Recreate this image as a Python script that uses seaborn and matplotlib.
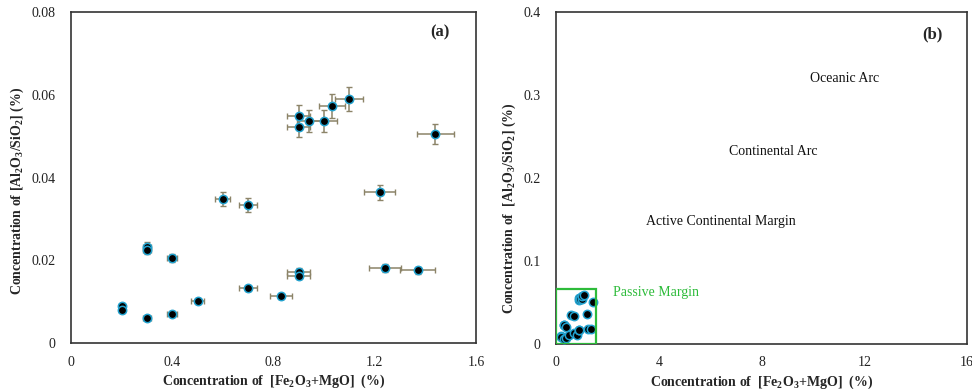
import numpy as np
import pandas as pd
import matplotlib
matplotlib.use("Agg")
import matplotlib.pyplot as plt
from matplotlib.patches import Rectangle
import seaborn as sns

# ---- data ----
fe_mgo = [0.20, 0.20, 0.30, 0.30, 0.30, 0.40, 0.40, 0.50, 0.60, 0.70, 0.70, 0.83,
          0.90, 0.90, 0.90, 0.90, 0.94, 1.00, 1.03, 1.10, 1.22, 1.24, 1.37, 1.44]
al_si = [0.0090, 0.0080, 0.0060, 0.0233, 0.0226, 0.0205, 0.0071, 0.0101, 0.0348, 0.0334, 0.0132, 0.0113,
         0.0172, 0.0162, 0.0548, 0.0523, 0.0536, 0.0536, 0.0572, 0.0589, 0.0364, 0.0182, 0.0176, 0.0505]
x_err = [0.010, 0.010, 0.015, 0.015, 0.015, 0.020, 0.020, 0.025, 0.030, 0.035, 0.035, 0.042,
         0.045, 0.045, 0.045, 0.045, 0.047, 0.050, 0.052, 0.055, 0.061, 0.062, 0.069, 0.072]
y_err = [0.0005, 0.0004, 0.0003, 0.0012, 0.0011, 0.0010, 0.0004, 0.0005, 0.0017, 0.0017, 0.0007, 0.0006,
         0.0009, 0.0008, 0.0027, 0.0026, 0.0027, 0.0027, 0.0029, 0.0029, 0.0018, 0.0009, 0.0009, 0.0025]

region_labels = ["Oceanic Arc", "Continental Arc", "Active Continental Margin", "Passive Margin"]
region_x = [9.9, 6.75, 3.5, 2.2]
region_y = [0.320, 0.232, 0.147, 0.062]
passive_box = (1.55, 0.066)

df = pd.DataFrame({"x": fe_mgo, "y": al_si, "xe": x_err, "ye": y_err})

sns.set_style("white")
plt.rcParams["font.family"] = ["Liberation Serif", "DejaVu Serif"]
plt.rcParams["mathtext.fontset"] = "custom"
plt.rcParams["mathtext.rm"] = "Liberation Serif"
plt.rcParams["mathtext.bf"] = "Liberation Serif:bold"

fig = plt.figure(figsize=(9.72, 3.89), dpi=100)
ax1 = fig.add_axes([0.073, 0.118, 0.4167, 0.851])
ax2 = fig.add_axes([0.572, 0.116, 0.423, 0.853])

xlab = r"Concentration of  [Fe$_\mathbf{2}$O$_\mathbf{3}$+MgO]  (%)"
ylab = r"Concentration of [Al$_\mathbf{2}$O$_\mathbf{3}$/SiO$_\mathbf{2}$] (%)"
ylab2 = r"Concentration of  [Al$_\mathbf{2}$O$_\mathbf{3}$/SiO$_\mathbf{2}$] (%)"

# panel (a)
ax1.errorbar(df["x"], df["y"], xerr=df["xe"], yerr=df["ye"], fmt="none",
             ecolor="#8c8468", elinewidth=1.1, capsize=2.5, capthick=1.0, zorder=2)
sns.scatterplot(data=df, x="x", y="y", ax=ax1, color="black", edgecolor="#22a2cf",
                linewidth=1.1, s=36, zorder=3, legend=False)
ax1.set_xlim(0, 1.6)
ax1.set_ylim(0, 0.08)
ax1.set_xticks([0, 0.4, 0.8, 1.2, 1.6])
ax1.set_xticklabels(["0", "0.4", "0.8", "1.2", "1.6"])
ax1.set_yticks([0, 0.02, 0.04, 0.06, 0.08])
ax1.set_yticklabels(["0", "0.02", "0.04", "0.06", "0.08"])
ax1.text(0.91, 0.94, "(a)", transform=ax1.transAxes, fontsize=12, fontweight="bold",
         ha="center", va="center")
ax1.set_xlabel(xlab, fontsize=10, fontweight="bold", labelpad=3)
ax1.set_ylabel(ylab, fontsize=10, fontweight="bold", labelpad=2)
ax1.yaxis.set_label_coords(-0.11, 0.46)

# panel (b)
sns.scatterplot(data=df, x="x", y="y", ax=ax2, color="black", edgecolor="#22a2cf",
                linewidth=1.1, s=36, zorder=3, legend=False)
ax2.add_patch(Rectangle((0, 0), passive_box[0], passive_box[1], fill=False,
                        edgecolor="#2dbb3a", linewidth=1.6, zorder=4))
ax2.set_xlim(0, 16)
ax2.set_ylim(0, 0.4)
ax2.set_xticks([0, 4, 8, 12, 16])
ax2.set_xticklabels(["0", "4", "8", "12", "16"])
ax2.set_yticks([0, 0.1, 0.2, 0.3, 0.4])
ax2.set_yticklabels(["0", "0.1", "0.2", "0.3", "0.4"])
for lab, rx, ry in zip(region_labels, region_x, region_y):
    col = "#2dbb3a" if lab == "Passive Margin" else "#111111"
    ax2.text(rx, ry, lab, fontsize=10, color=col, ha="left", va="center")
ax2.text(0.915, 0.932, "(b)", transform=ax2.transAxes, fontsize=12, fontweight="bold",
         ha="center", va="center")
ax2.set_xlabel(xlab, fontsize=10, fontweight="bold", labelpad=3)
ax2.set_ylabel(ylab2, fontsize=10, fontweight="bold", labelpad=2)
ax2.yaxis.set_label_coords(-0.092, 0.41)

for ax in (ax1, ax2):
    for sp in ax.spines.values():
        sp.set_color("#333333")
        sp.set_linewidth(1.2)
    ax.tick_params(axis="both", direction="in", length=3, width=0.6, color="#bbbbbb",
                   labelsize=10, labelcolor="#222222", pad=9)
    ax.tick_params(axis="y", pad=11)

fig.savefig("out.png", dpi=100)
